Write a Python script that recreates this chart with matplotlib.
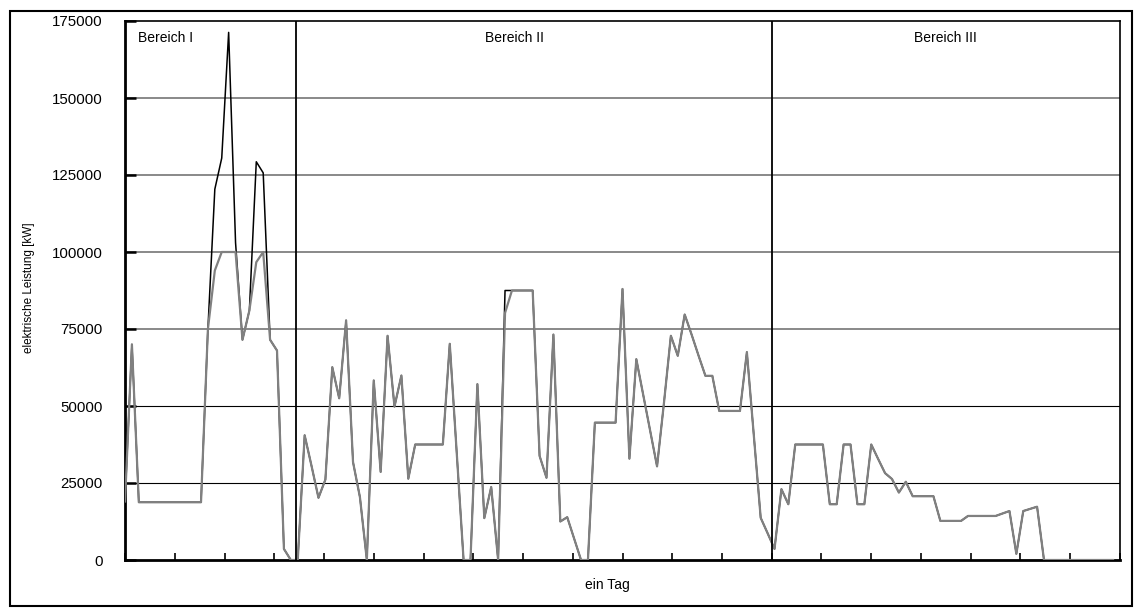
import matplotlib.pyplot as plt
import numpy as np
from matplotlib.patches import Rectangle

plt.rcParams['font.family'] = ['Liberation Sans', 'DejaVu Sans']

# Messwerte (ein Tag, 144 Intervalle)
grau = ([19000, 70000] + [18750] * 10 +
        [75000, 94000, 100000, 100000, 100000, 71500, 81000, 96700, 100000,
         71500, 68000, 3600, 0, 0, 40500, 30500, 20200, 26100, 62600, 52500,
         77800, 31800, 20400, 0, 58300, 28600, 72800, 49800, 59900, 26400] +
        [37500] * 5 +
        [70200, 35000, 0, 0, 57100, 13600, 23700, 0, 80200] +
        [87500] * 4 +
        [33800, 26700, 73200, 12500, 13900, 7000, 0, 0] +
        [44600] * 4 +
        [88000, 32900, 65200, 53600, 42000, 30400, 51000, 72800, 66300, 79700,
         73200, 66400, 59800, 59800] +
        [48400] * 4 +
        [67500, 40500, 13700, 8700, 3600, 23000, 18100] +
        [37500] * 5 +
        [18100, 18100, 37500, 37500, 18100, 18100, 37500, 32800, 28200, 26300,
         21900, 25400] +
        [20700] * 4 + [12700] * 4 + [14300] * 5 +
        [15100, 15900, 2000, 15900, 16600, 17300] +
        [0] * 11)

# schwarze Reihe weicht nur in Bereich I und an einer Stelle ab
schwarz = list(grau)
schwarz_abw = {12: 75000, 13: 120400, 14: 130500, 15: 171300, 16: 103000,
               19: 129300, 20: 125700, 55: 87500}
for k, v in schwarz_abw.items():
    schwarz[k] = v

grenzen = [24.7, 93.6]
bereiche = ['Bereich I', 'Bereich II', 'Bereich III']
bereich_x = [1.9, 56.4, 118.7]
y_ticks = [0, 25000, 50000, 75000, 100000, 125000, 150000, 175000]

x = np.arange(len(grau))

fig = plt.figure(figsize=(11.35, 6.1), dpi=100)
fig.patches.append(Rectangle((10 / 1135, 4 / 610), 1122 / 1135, 595 / 610,
                             transform=fig.transFigure, fill=False,
                             edgecolor='black', linewidth=1.5))
ax = fig.add_axes([125 / 1135, 50 / 610, 995 / 1135, 539 / 610])

# Gitternetz
for yv in y_ticks[1:-1]:
    if yv <= 50000:
        ax.axhline(yv, color='black', linewidth=0.8, zorder=1)
    else:
        ax.axhline(yv, color='#808080', linewidth=1.3, zorder=1)

ax.plot(x, schwarz, color='black', linewidth=1.1, zorder=2)
ax.plot(x, grau, color='#808080', linewidth=1.6, zorder=3)

for g in grenzen:
    ax.axvline(g, color='black', linewidth=1.3, zorder=4)

ax.set_xlim(0, 144)
ax.set_ylim(0, 175000)
ax.set_yticks(y_ticks)
ax.set_xticks(np.linspace(0, 144, 21))
ax.set_xticklabels([])
ax.tick_params(axis='y', direction='in', length=8, width=1.8, pad=16,
               labelsize=10.8)
ax.tick_params(axis='x', direction='in', length=5, width=1.2)

for s in ['left', 'bottom']:
    ax.spines[s].set_linewidth(2)
for s in ['top', 'right']:
    ax.spines[s].set_linewidth(1.2)

for t, bx in zip(bereiche, bereich_x):
    ax.text(bx, 169500, t, fontsize=10, ha='left' if t == 'Bereich I' else 'center',
            va='center')

fig.text(29 / 1135, 322 / 610, 'elektrische Leistung [kW]', fontsize=8.5,
         rotation=90, ha='center', va='center')
fig.text(607 / 1135, 25 / 610, 'ein Tag', fontsize=10, ha='center', va='center')

fig.savefig('out.png', dpi=100)
